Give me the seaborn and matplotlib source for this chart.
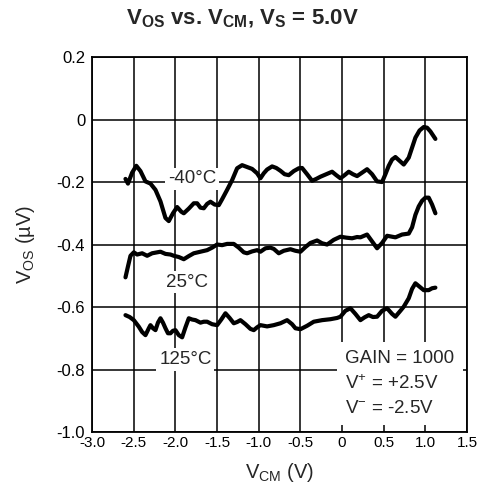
import numpy as np
import pandas as pd
import seaborn as sns
import matplotlib.pyplot as plt

# V_CM (V) / V_OS (uV)
vcm_m40 = [-2.60, -2.57, -2.52, -2.47, -2.42, -2.36, -2.30, -2.24, -2.18, -2.12,
           -2.08, -2.03, -1.98, -1.93, -1.90, -1.84, -1.78, -1.74, -1.70, -1.66,
           -1.62, -1.58, -1.53, -1.48, -1.44, -1.38, -1.32, -1.26, -1.20, -1.14,
           -1.08, -1.02, -0.98, -0.94, -0.90, -0.84, -0.79, -0.74, -0.69, -0.64,
           -0.58, -0.52, -0.48, -0.42, -0.36, -0.31, -0.26, -0.19, -0.12, -0.07,
           -0.02, 0.03, 0.08, 0.13, 0.18, 0.24, 0.30, 0.36, 0.42, 0.48,
           0.52, 0.56, 0.60, 0.64, 0.69, 0.74, 0.80, 0.84, 0.88, 0.93,
           0.98, 1.02, 1.06, 1.12]
vos_m40 = [-0.190, -0.205, -0.170, -0.148, -0.165, -0.198, -0.205, -0.225, -0.262, -0.315,
           -0.325, -0.300, -0.280, -0.295, -0.300, -0.285, -0.268, -0.268, -0.282, -0.284,
           -0.270, -0.263, -0.272, -0.274, -0.255, -0.225, -0.194, -0.156, -0.146, -0.152,
           -0.158, -0.172, -0.188, -0.172, -0.160, -0.150, -0.155, -0.164, -0.175, -0.178,
           -0.165, -0.156, -0.155, -0.175, -0.196, -0.190, -0.183, -0.175, -0.167, -0.178,
           -0.188, -0.178, -0.167, -0.175, -0.181, -0.170, -0.159, -0.175, -0.198, -0.200,
           -0.175, -0.148, -0.128, -0.120, -0.132, -0.144, -0.122, -0.090, -0.058, -0.035,
           -0.024, -0.026, -0.038, -0.062]

vcm_25 = [-2.60, -2.57, -2.54, -2.50, -2.46, -2.40, -2.34, -2.28, -2.22, -2.18,
          -2.12, -2.06, -2.02, -1.96, -1.90, -1.84, -1.78, -1.70, -1.62, -1.56,
          -1.50, -1.44, -1.38, -1.30, -1.24, -1.18, -1.14, -1.08, -1.02, -0.98,
          -0.92, -0.86, -0.82, -0.76, -0.70, -0.62, -0.56, -0.50, -0.44, -0.38,
          -0.30, -0.24, -0.18, -0.10, -0.02, 0.05, 0.12, 0.18, 0.22, 0.30,
          0.36, 0.42, 0.48, 0.54, 0.60, 0.64, 0.72, 0.80, 0.84, 0.88,
          0.92, 0.96, 1.00, 1.04, 1.08, 1.12]
vos_25 = [-0.505, -0.470, -0.436, -0.425, -0.432, -0.428, -0.436, -0.428, -0.425, -0.423,
          -0.430, -0.432, -0.436, -0.440, -0.447, -0.437, -0.428, -0.423, -0.418, -0.410,
          -0.400, -0.402, -0.398, -0.398, -0.410, -0.425, -0.428, -0.422, -0.418, -0.423,
          -0.412, -0.410, -0.414, -0.428, -0.420, -0.415, -0.420, -0.423, -0.408, -0.395,
          -0.387, -0.396, -0.400, -0.385, -0.375, -0.378, -0.380, -0.376, -0.377, -0.368,
          -0.390, -0.412, -0.395, -0.372, -0.375, -0.377, -0.368, -0.365, -0.345, -0.305,
          -0.278, -0.260, -0.250, -0.250, -0.272, -0.300]

vcm_125 = [-2.60, -2.55, -2.50, -2.44, -2.40, -2.36, -2.32, -2.30, -2.27, -2.24,
           -2.21, -2.18, -2.15, -2.12, -2.09, -2.06, -2.03, -2.00, -1.96, -1.92,
           -1.88, -1.84, -1.80, -1.76, -1.70, -1.66, -1.62, -1.56, -1.50, -1.45,
           -1.40, -1.35, -1.30, -1.26, -1.22, -1.16, -1.10, -1.06, -1.02, -0.98,
           -0.90, -0.82, -0.74, -0.66, -0.60, -0.56, -0.50, -0.42, -0.34, -0.24,
           -0.14, -0.06, -0.02, 0.04, 0.10, 0.16, 0.22, 0.27, 0.32, 0.37,
           0.42, 0.48, 0.54, 0.60, 0.64, 0.70, 0.74, 0.80, 0.84, 0.88,
           0.93, 0.98, 1.04, 1.08, 1.12]
vos_125 = [-0.626, -0.632, -0.642, -0.663, -0.680, -0.690, -0.668, -0.658, -0.668, -0.674,
           -0.650, -0.636, -0.650, -0.668, -0.684, -0.684, -0.676, -0.674, -0.690, -0.697,
           -0.665, -0.636, -0.640, -0.642, -0.650, -0.647, -0.647, -0.655, -0.658, -0.640,
           -0.620, -0.635, -0.652, -0.648, -0.642, -0.655, -0.670, -0.674, -0.665, -0.658,
           -0.662, -0.658, -0.652, -0.642, -0.655, -0.668, -0.671, -0.660, -0.647, -0.642,
           -0.639, -0.635, -0.631, -0.612, -0.604, -0.622, -0.642, -0.633, -0.626, -0.632,
           -0.631, -0.612, -0.604, -0.622, -0.631, -0.612, -0.599, -0.572, -0.542, -0.524,
           -0.535, -0.546, -0.546, -0.540, -0.538]

temps = ['-40°C', '25°C', '125°C']
label_pos = [(-1.80, -0.190), (-1.86, -0.520), (-1.88, -0.768)]

x_ticks = [-3.0, -2.5, -2.0, -1.5, -1.0, -0.5, 0, 0.5, 1.0, 1.5]
x_ticklabels = ['-3.0', '-2.5', '-2.0', '-1.5', '-1.0', '-0.5', '0', '0.5', '1.0', '1.5']
y_ticks = [-1.0, -0.8, -0.6, -0.4, -0.2, 0, 0.2]
y_ticklabels = ['-1.0', '-0.8', '-0.6', '-0.4', '-0.2', '0', '0.2']

df = pd.concat([
    pd.DataFrame({'vcm': vcm_m40, 'vos': vos_m40, 'temp': temps[0]}),
    pd.DataFrame({'vcm': vcm_25, 'vos': vos_25, 'temp': temps[1]}),
    pd.DataFrame({'vcm': vcm_125, 'vos': vos_125, 'temp': temps[2]}),
])

sns.set_style('white')
plt.rcParams['font.family'] = ['Liberation Sans', 'DejaVu Sans']
plt.rcParams['mathtext.fontset'] = 'custom'
plt.rcParams['mathtext.rm'] = 'Liberation Sans'
plt.rcParams['mathtext.it'] = 'Liberation Sans:italic'
plt.rcParams['mathtext.bf'] = 'Liberation Sans:bold'

fig = plt.figure(figsize=(4.85, 4.96), dpi=100)
ax = fig.add_axes([0.19, 0.129, 0.773, 0.756])

sns.lineplot(data=df, x='vcm', y='vos', hue='temp', palette=['black'] * 3,
             sort=False, estimator=None, legend=False, linewidth=3.0, ax=ax, zorder=4)

ax.set_xlim(-3.0, 1.5)
ax.set_ylim(-1.0, 0.2)
ax.set_xticks(x_ticks)
ax.set_xticklabels(x_ticklabels, fontsize=11)
ax.set_yticks(y_ticks)
ax.set_yticklabels(y_ticklabels, fontsize=12)
ax.tick_params(axis='both', length=0, colors='black')
ax.tick_params(axis='x', pad=3)
ax.tick_params(axis='y', pad=5)
ax.grid(True, color='black', linewidth=1.1)
ax.set_axisbelow(True)
for s in ax.spines.values():
    s.set_color('black')
    s.set_linewidth(1.3)

# curve labels with a white patch behind them, as in the datasheet
for t, (lx, ly) in zip(temps, label_pos):
    ax.text(lx, ly, t, fontsize=13.5, ha='center', va='center', zorder=3,
            bbox=dict(facecolor='white', edgecolor='none', pad=2))

ax.text(0.04, -0.845, 'GAIN = 1000\nV$^{+}$ = +2.5V\nV$^{-}$ = -2.5V',
        fontsize=13.5, ha='left', va='center', linespacing=1.5, zorder=3,
        bbox=dict(facecolor='white', edgecolor='none', pad=6))

ax.set_xlabel('V$_{\\mathrm{CM}}$ (V)', fontsize=14.5, labelpad=8)
ax.set_ylabel('V$_{\\mathrm{OS}}$ (µV)', fontsize=14.5, labelpad=14)
fig.text(0.5, 0.962, 'V$_{\\mathbf{OS}}$ vs. V$_{\\mathbf{CM}}$, V$_{\\mathbf{S}}$ = 5.0V',
         fontsize=16, fontweight='bold', ha='center', va='center')

fig.savefig('out.png', dpi=100)
